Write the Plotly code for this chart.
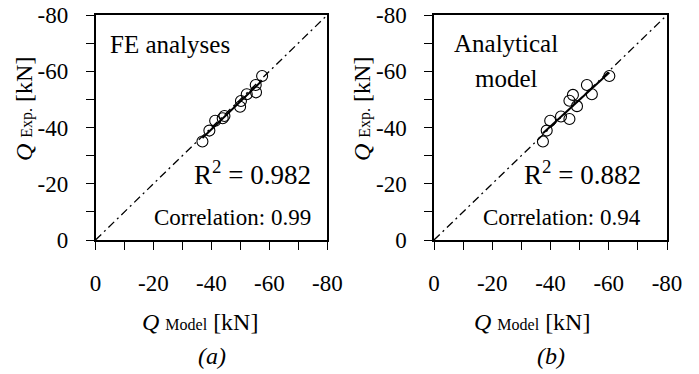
import numpy as np
import plotly.graph_objects as go

# Shear capacity pairs (kN): model prediction vs. experiment
fe_model = [-36.9, -39.3, -41.3, -43.9, -44.5, -49.9, -50.2, -52.2, -55.4, -55.3, -57.5]
fe_exp = [-35.0, -38.9, -42.4, -43.3, -44.1, -47.4, -49.4, -51.8, -52.5, -55.1, -58.3]

an_model = [-37.4, -38.7, -39.9, -43.6, -46.5, -46.5, -47.7, -49.1, -52.5, -54.2, -60.2]
an_exp = [-35.0, -38.9, -42.4, -43.9, -43.0, -49.5, -51.6, -47.6, -55.1, -51.8, -58.3]

panel_titles = [["FE analyses"], ["Analytical", "model"]]
r2_labels = ["0.982", "0.882"]
corr_labels = ["0.99", "0.94"]
panel_tags = ["(a)", "(b)"]
tick_vals = [0, -10, -20, -30, -40, -50, -60, -70, -80]
tick_text = ["0", " ", "-20", " ", "-40", " ", "-60", " ", "-80"]

W, H = 699, 374
FONT = "Liberation Serif"

fig = go.Figure()

panels = [("x", "y", fe_model, fe_exp), ("x2", "y2", an_model, an_exp)]
for xa, ya, xm, ye in panels:
    # 1:1 reference line
    fig.add_trace(go.Scatter(x=[0, -80], y=[0, -80], mode="lines", xaxis=xa, yaxis=ya,
                             line=dict(color="black", width=1.3, dash="8px,4px,2px,4px"),
                             showlegend=False, hoverinfo="skip"))
    # least-squares fit over the data span
    k, b = np.polyfit(xm, ye, 1)
    xs = np.array([min(xm), max(xm)])
    fig.add_trace(go.Scatter(x=xs, y=k * xs + b, mode="lines", xaxis=xa, yaxis=ya,
                             line=dict(color="black", width=2), showlegend=False))
    fig.add_trace(go.Scatter(x=xm, y=ye, mode="markers", xaxis=xa, yaxis=ya,
                             marker=dict(symbol="circle-open", size=11, color="black",
                                         line=dict(width=1.1)),
                             showlegend=False))

# panel geometry in pixels
left = [95.5, 434.0]
right = [327.3, 667.0]
top, bottom = 15.0, 240.0

axis_common = dict(range=[0, -80], tickvals=tick_vals, ticktext=tick_text,
                   ticks="outside", ticklen=8, tickwidth=1.3, tickcolor="black",
                   showline=True, linecolor="black", linewidth=1.5, mirror=True,
                   showgrid=False, zeroline=False, automargin=False,
                   tickfont=dict(family=FONT, size=23, color="black"))

layout = dict(width=W, height=H, autosize=False,
              margin=dict(l=0, r=0, t=0, b=0, pad=0, autoexpand=False),
              paper_bgcolor="white", plot_bgcolor="white", showlegend=False,
              font=dict(family=FONT, color="black"))
for i, (xn, yn) in enumerate([("xaxis", "yaxis"), ("xaxis2", "yaxis2")]):
    xa = dict(axis_common, domain=[left[i] / W, right[i] / W], ticklabelstandoff=14)
    ya = dict(axis_common, domain=[1 - bottom / H, 1 - top / H], ticklabelstandoff=13)
    if i == 1:
        xa["anchor"] = "y2"
        ya["anchor"] = "x2"
    layout[xn] = xa
    layout[yn] = ya
fig.update_layout(**layout)


def ann(text, px, py, size, xanchor="center", angle=0):
    fig.add_annotation(text=text, x=px / W, y=1 - py / H, xref="paper", yref="paper",
                       xanchor=xanchor, yanchor="middle", showarrow=False,
                       textangle=angle, font=dict(family=FONT, size=size, color="black"))


for i in range(2):
    off = left[i] - left[0]
    # panel heading
    if len(panel_titles[i]) == 1:
        ann(panel_titles[i][0], 108 + off, 44, 25, xanchor="left")
    else:
        ann(panel_titles[i][0], 506, 43, 25)
        ann(panel_titles[i][1], 506, 79, 25)
    # statistics
    r_right = 313 if i == 0 else 643
    ann("R<sup>2</sup> = " + r2_labels[i], r_right, 173, 27, xanchor="right")
    ann("Correlation: " + corr_labels[i], r_right, 217, 23, xanchor="right")
    # axis titles
    ann("<i>Q</i> <span style='font-size:16px'>Model</span> [kN]", 200 + off * 0.98, 322, 24)
    ann("<i>Q</i> <span style='font-size:16px'>Exp.</span> [kN]", 24 + (338 if i else 0), 109, 24, angle=-90)
    ann("<i>" + panel_tags[i] + "</i>", 212 + off, 356, 24)

fig.write_html("out.html")
